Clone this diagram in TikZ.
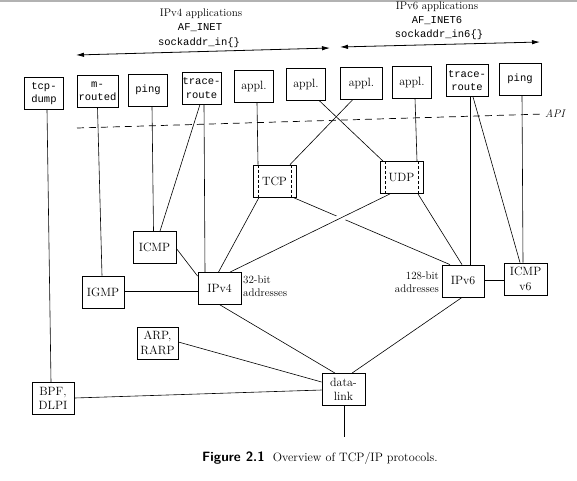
\documentclass[tikz,border=0pt]{standalone}
\usepackage{fontspec}
\setmonofont{Liberation Mono}
\usetikzlibrary{arrows.meta,calc}
\begin{document}
\begin{tikzpicture}[x=1pt,y=-1pt,
  bx/.style={draw,line width=0.8pt,inner sep=0pt,minimum width=39pt,minimum height=32pt,align=center},
  pbx/.style={bx,minimum width=43pt},
  ttf/.style={font=\fontsize{10.5}{13.5}\selectfont\ttfamily},
  rmf/.style={font=\fontsize{12}{14.5}\selectfont},
  lbl/.style={font=\fontsize{11}{13}\selectfont},
  ln/.style={line width=0.6pt},
  arr/.style={line width=0.8pt,{Latex[length=8pt,width=4.5pt]}-{Latex[length=8pt,width=4.5pt]}},
  apiline/.style={line width=0.7pt,dash pattern=on 7pt off 5pt},
  inner/.style={line width=0.6pt,dash pattern=on 3pt off 2pt},
  gap/.style={preaction={draw=white,line width=7pt,shorten <=8pt,shorten >=8pt}}
  ]
\useasboundingbox (0,0) rectangle (577,480);
\fill[white] (0,0) rectangle (577,480);
\draw[gray!60,line width=1.5pt] (0,1) -- (577,1);

% header labels
\node[lbl] (v4a) at (201,14) {IPv4 applications};
\node[lbl,font=\fontsize{10.5}{12}\selectfont\ttfamily] (v4b) at (200,28) {AF\_INET};
\node[lbl,font=\fontsize{10.5}{12}\selectfont\ttfamily] (v4c) at (199,43) {sockaddr\_in\{\}};
\node[lbl] (v6a) at (437,7) {IPv6 applications};
\node[lbl,font=\fontsize{10.5}{12}\selectfont\ttfamily] (v6b) at (437,21) {AF\_INET6};
\node[lbl,font=\fontsize{10.5}{12}\selectfont\ttfamily] (v6c) at (439,35) {sockaddr\_in6\{\}};
\coordinate (a4l) at (76,55);
\coordinate (a4r) at (330,48);
\coordinate (a6l) at (340,47);
\coordinate (a6r) at (540,42);
\draw[arr] (a4l) -- (a4r);
\draw[arr] (a6l) -- (a6r);

% application row
\node[bx,ttf] (tcpdump) at (44,93.5) {tcp-\\dump};
\node[bx,ttf,minimum width=41pt] (mrouted) at (97.5,91) {m-\\routed};
\node[bx,ttf] (ping4) at (148,90) {ping};
\node[bx,ttf] (trace4) at (201.5,88) {trace-\\route};
\node[bx,rmf] (appl1) at (254,86.5) {appl.};
\node[bx,rmf] (appl2) at (306,84) {appl.};
\node[bx,rmf,minimum width=42pt] (appl3) at (361.5,83.5) {appl.};
\node[bx,rmf] (appl4) at (412,82) {appl.};
\node[bx,ttf,minimum width=42pt] (trace6) at (467,80.5) {trace-\\route};
\node[bx,ttf,minimum width=42pt] (ping6) at (520,79) {ping};

% API line
\coordinate (apil) at (77,128);
\node[anchor=west,font=\fontsize{11}{13}\selectfont\itshape,inner sep=1pt] (api) at (544,114) {API};
\draw[apiline] (apil) -- (api.west);

% protocol boxes
\node[pbx,rmf] (tcp) at (274.5,181) {TCP};
\node[pbx,rmf] (udp) at (401.5,177.5) {UDP};
\node[pbx,rmf] (icmp) at (154.5,247.5) {ICMP};
\node[pbx,rmf,minimum width=42pt] (igmp) at (103,292) {IGMP};
\node[pbx,rmf] (ipv4) at (219.5,288.5) {IPv4};
\node[pbx,rmf,minimum width=42pt] (ipv6) at (463,281) {IPv6};
\node[pbx,rmf] (icmp6) at (525.5,279) {ICMP\\v6};
\node[pbx,rmf,minimum width=41pt] (arp) at (157.5,343) {ARP,\\RARP};
\node[pbx,rmf,minimum width=42pt] (bpf) at (53,398.5) {BPF,\\DLPI};
\node[pbx,rmf] (dlink) at (343.5,389.5) {data-\\link};

% inner dashed lines of TCP and UDP
\draw[inner] ($(tcp.north west)+(5.5,0)$) -- ($(tcp.south west)+(5.5,0)$);
\draw[inner] ($(tcp.north east)+(-5.5,0)$) -- ($(tcp.south east)+(-5.5,0)$);
\draw[inner] ($(udp.north west)+(5.5,0)$) -- ($(udp.south west)+(5.5,0)$);
\draw[inner] ($(udp.north east)+(-5.5,0)$) -- ($(udp.south east)+(-5.5,0)$);

% address labels
\node[lbl,anchor=west,align=left,inner sep=1pt] (a32) at (242,286) {32-bit\\addresses};
\node[lbl,anchor=east,align=right,inner sep=1pt] (a128) at (440,282) {128-bit\\addresses};

% connectors
\draw[ln] ($(tcpdump.south)+(3,0)$) -- ($(bpf.north)+(-2,0)$);
\draw[ln] (mrouted.south) -- ($(igmp.north)+(-1,0)$);
\draw[ln] ($(ping4.south)+(4,0)$) -- ($(icmp.north)+(-1,0)$);
\draw[ln] ($(trace4.south)+(-1.5,0)$) -- ($(icmp.north)+(5.5,0)$);
\draw[ln] ($(trace4.south)+(2.5,0)$) -- ($(ipv4.north)+(-14.5,0)$);
\draw[ln] ($(appl1.south)+(3,0)$) -- ($(tcp.north)+(-16.5,0)$);
\draw[ln] ($(appl2.south)+(13,0)$) -- ($(udp.north)+(-18.5,0)$);
\draw[ln] ($(appl3.south)+(-9,0)$) -- ($(tcp.north)+(15.5,0)$);
\draw[ln] ($(appl4.south)+(3,0)$) -- ($(udp.north)+(15.5,0)$);
\draw[ln] ($(trace6.south)+(3,0)$) -- ($(ipv6.north)+(7,0)$);
\draw[ln] ($(trace6.south)+(6,0)$) -- ($(icmp6.north)+(-5.5,0)$);
\draw[ln] ($(ping6.south)+(2,0)$) -- ($(icmp6.north)+(-2.5,0)$);
\draw[ln] ($(tcp.south)+(-15.5,0)$) -- ($(ipv4.north)+(-1,0)$);
\draw[ln] ($(tcp.south)+(18.5,0)$) -- ($(ipv6.north)+(-13,0)$);
\draw[ln,gap] ($(udp.south)+(-11.5,0)$) -- ($(ipv4.north)+(10.5,0)$);
\draw[ln] ($(udp.south)+(16.5,0)$) -- ($(ipv6.north)+(-1,0)$);
\draw[ln] ($(icmp.east)+(0,1)$) -- ($(ipv4.north west)+(0,4)$);
\coordinate (igr) at ($(igmp.east)+(0,-1)$);
\draw[ln] (igr) -- (igr -| ipv4.west);
\coordinate (v6r) at ($(ipv6.east)+(0,-1)$);
\draw[ln] (v6r) -- (v6r -| icmp6.west);
\draw[ln] ($(ipv4.south)+(0.5,0)$) -- ($(dlink.north)+(-8.5,0)$);
\draw[ln] ($(ipv6.south)+(-1,0)$) -- ($(dlink.north)+(8.5,0)$);
\draw[ln] ($(arp.east)+(0,-1)$) -- ($(dlink.west)+(0,-7.5)$);
\draw[ln] ($(bpf.east)+(0,-0.5)$) -- ($(dlink.west)+(0,0.5)$);
\coordinate (net) at (344,437);
\draw[ln] (dlink.south -| net) -- (net);

% caption
\node[anchor=west,inner sep=0pt] (cap) at (202,458)
  {{\fontsize{13.5}{15}\selectfont\sffamily\bfseries Figure 2.1}\hspace{8pt}{\fontsize{12.2}{14}\selectfont Overview of TCP/IP protocols.}};
\end{tikzpicture}
\end{document}
